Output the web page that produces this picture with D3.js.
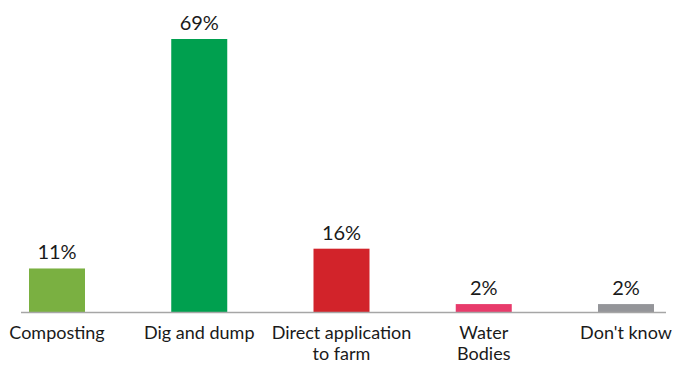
<!DOCTYPE html>
<html>
<head>
<meta charset="utf-8">
<script src="https://cdn.jsdelivr.net/npm/d3@7"></script>
<style>
  html, body { margin: 0; padding: 0; background: #fff; }
  svg text { font-family: Lato, "Open Sans", sans-serif; fill: #1a1a1a; }
</style>
</head>
<body>
<svg id="chart" width="674" height="365"></svg>
<script>
// Disposal methods and share of respondents (%)
const categories = ["Composting", "Dig and dump", "Direct application\nto farm", "Water\nBodies", "Don't know"];
const values = [11, 69, 16, 2, 2];
const colors = ["#7ab041", "#00a04f", "#d2232a", "#e83b6b", "#949599"];

const svg = d3.select("#chart");
const baseY = 312;

const x = d3.scalePoint()
  .domain(categories)
  .range([57, 626]);

const y = d3.scaleLinear()
  .domain([0, 69])
  .range([baseY, 39]);

const barW = 56;

svg.selectAll("rect.bar")
  .data(values)
  .join("rect")
  .attr("class", "bar")
  .attr("x", (d, i) => x(categories[i]) - barW / 2)
  .attr("y", d => y(d))
  .attr("width", barW)
  .attr("height", d => baseY - y(d))
  .attr("fill", (d, i) => colors[i]);

// baseline axis
svg.append("line")
  .attr("x1", 21).attr("x2", 666)
  .attr("y1", baseY + 0.5).attr("y2", baseY + 0.5)
  .attr("stroke", "#a6a6a6")
  .attr("stroke-width", 1.3);

// value labels
svg.selectAll("text.val")
  .data(values)
  .join("text")
  .attr("class", "val")
  .attr("x", (d, i) => x(categories[i]))
  .attr("y", d => y(d) - 9)
  .attr("text-anchor", "middle")
  .attr("font-size", 20)
  .text(d => d + "%");

// category labels
const labels = svg.selectAll("text.cat")
  .data(categories)
  .join("text")
  .attr("class", "cat")
  .attr("x", d => x(d))
  .attr("y", 339)
  .attr("text-anchor", "middle")
  .attr("font-size", 18);

labels.selectAll("tspan")
  .data(d => d.split("\n").map(t => ({ t, c: d })))
  .join("tspan")
  .attr("x", d => x(d.c))
  .attr("dy", (d, i) => i === 0 ? 0 : 21)
  .text(d => d.t);
</script>
</body>
</html>
